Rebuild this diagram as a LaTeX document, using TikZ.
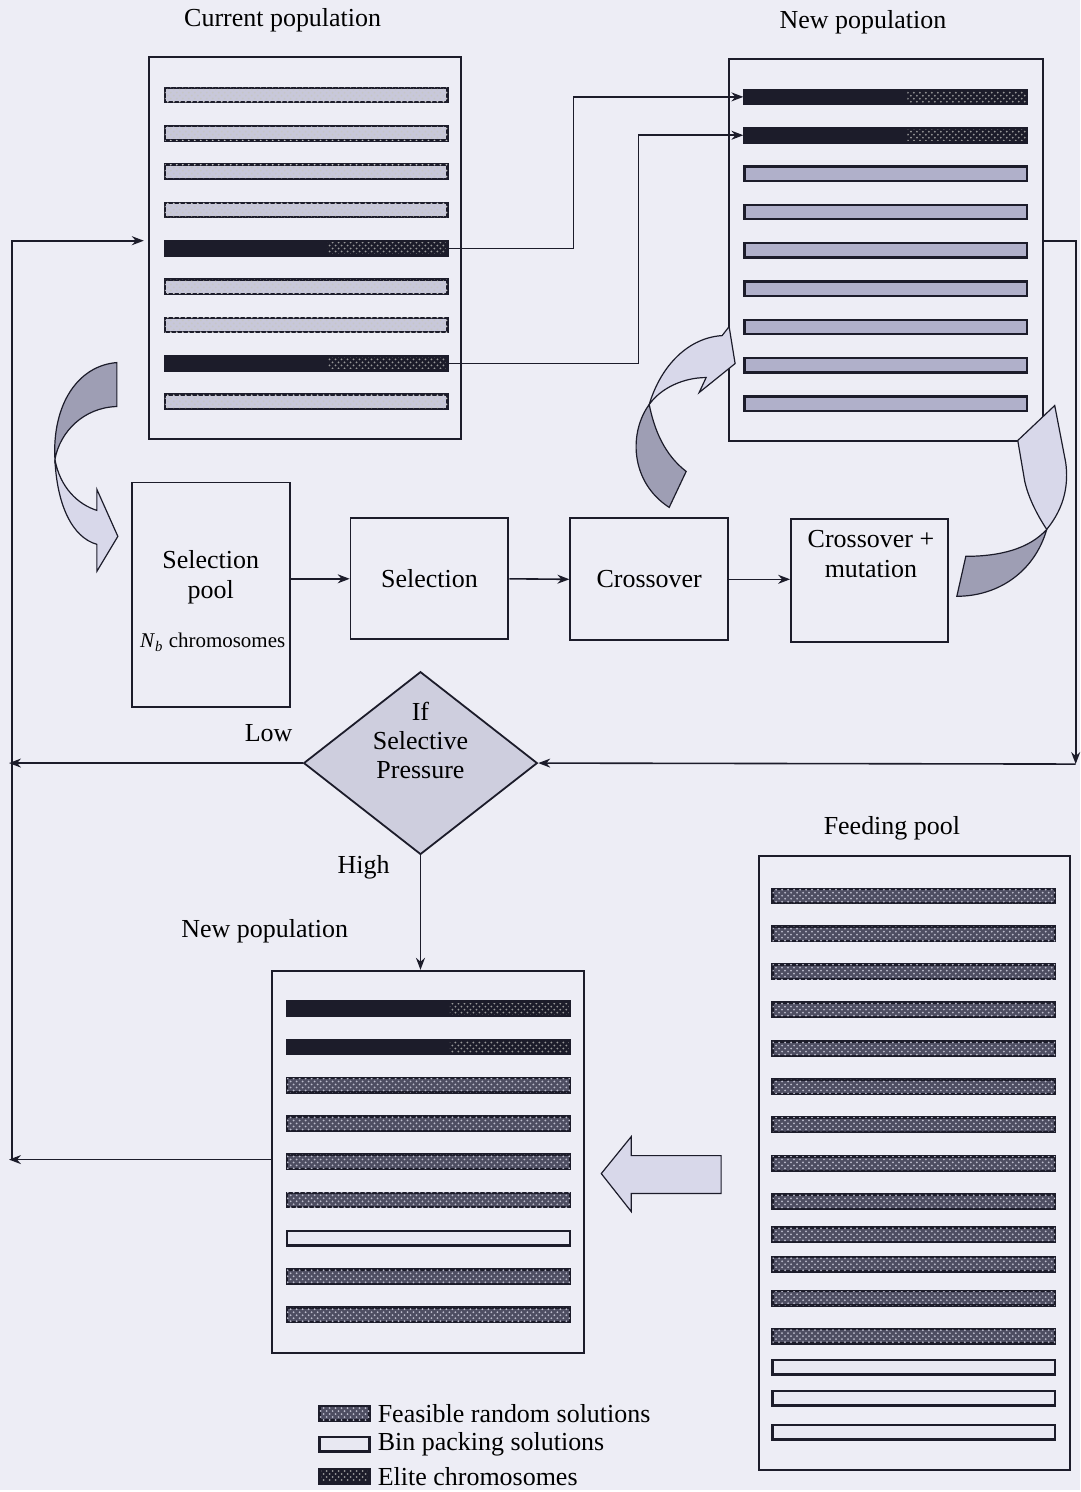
\documentclass[tikz,border=0pt]{standalone}
\usepackage{fontspec}
\setmainfont{Liberation Serif}
\usetikzlibrary{arrows.meta, positioning, shapes.geometric, patterns}

\definecolor{paper}{RGB}{237,237,245}
\definecolor{ink}{RGB}{28,28,42}
\definecolor{curfill}{RGB}{200,200,218}
\definecolor{newfill}{RGB}{176,176,202}
\definecolor{feasfill}{RGB}{78,78,98}
\definecolor{feasdot}{RGB}{188,188,204}
\definecolor{binfill}{RGB}{232,232,242}
\definecolor{backarc}{RGB}{158,158,180}
\definecolor{frontarc}{RGB}{216,216,234}
\definecolor{diafill}{RGB}{206,206,222}

\tikzset{
  popbox/.style={draw=ink, line width=1pt, fill=paper, inner sep=0pt},
  stepbox/.style={draw=ink, line width=0.9pt, fill=paper, inner sep=0pt},
  decision/.style={diamond, draw=ink, line width=0.9pt, fill=diafill, inner sep=0pt},
  bar/.style={draw=ink, line width=1.2pt, minimum width=141.5pt, minimum height=7.2pt, inner sep=0pt},
  curbar/.style={bar, fill=curfill, postaction={pattern=crosshatch dots, pattern color=gray!45}},
  newbar/.style={bar, fill=newfill},
  feasbar/.style={bar, fill=feasfill, postaction={pattern=crosshatch dots, pattern color=feasdot}},
  binbar/.style={bar, fill=binfill},
  elitebar/.style={bar, fill=ink, path picture={
      \fill[pattern=crosshatch dots, pattern color=gray!80]
        ([xshift=-60pt]path picture bounding box.north east) rectangle (path picture bounding box.south east);}},
  conn/.style={draw=ink, line width=0.8pt, -{Stealth[length=6pt, width=4.5pt]}},
  arcback/.style={draw=ink, line width=0.6pt, fill=backarc},
  arcfront/.style={draw=ink, line width=0.6pt, fill=frontarc},
}

\begin{document}
\begin{tikzpicture}[x=0.5pt, y=-0.5pt, font=\fontsize{13}{15.6}\selectfont]
\fill[paper] (0,0) rectangle (1081,1492);

% titles and branch labels
\node (curlbl) at (283,20) {Current population};
\node (newlbl) at (864,22) {New population};
\node (feedlbl) at (893,829) {Feeding pool};
\node (botlbl) at (265,932) {New population};
\node (lowlbl) at (269,734) {Low};
\node (highlbl) at (364,868) {High};

% population boxes
\node[popbox, minimum width=156.5pt, minimum height=191.5pt] (curpop) at (305.5,248.5) {};
\node[popbox, minimum width=157pt, minimum height=191.5pt] (newpop) at (887,250.5) {};
\node[popbox, minimum width=156.5pt, minimum height=191.5pt] (newbot) at (428.5,1163.5) {};
\node[popbox, minimum width=155.5pt, minimum height=307.5pt] (feed) at (915.5,1164.5) {};

% chromosomes
\foreach \t [count=\i] in {curbar,curbar,curbar,curbar,elitebar,curbar,curbar,elitebar,curbar}
  \node[\t] (cp\i) at (306.5,56.6+38.4*\i) {};
\foreach \t [count=\i] in {elitebar,elitebar,newbar,newbar,newbar,newbar,newbar,newbar,newbar}
  \node[\t] (np\i) at (887,58.6+38.4*\i) {};
\foreach \t [count=\i] in {elitebar,elitebar,feasbar,feasbar,feasbar,feasbar,binbar,feasbar,feasbar}
  \node[\t] (bp\i) at (429,971.7+38.3*\i) {};
\foreach \y/\t [count=\i] in {897/feasbar,935/feasbar,973/feasbar,1011/feasbar,1050/feasbar,
    1088/feasbar,1126/feasbar,1165/feasbar,1203/feasbar,1236/feasbar,1266/feasbar,1300/feasbar,
    1338/feasbar,1369/binbar,1400/binbar,1434/binbar}
  \node[\t] (fp\i) at (915,\y) {};

% GA steps
\node[stepbox, minimum width=79pt, minimum height=112.5pt] (selpool) at (211,595.5) {};
\node (selpooltxt) at (211,578) {\begin{tabular}{@{}c@{}}Selection\\[-1pt] pool\end{tabular}};
\node[font=\fontsize{10.5}{12}\selectfont] (nbtxt) at (213,643) {\textit{N}\textsubscript{\textit{b}} chromosomes};
\node[stepbox, minimum width=79pt, minimum height=60.5pt] (sel) at (430,579.5) {Selection};
\node[stepbox, minimum width=79pt, minimum height=61pt] (cross) at (650,580) {Crossover};
\node[stepbox, minimum width=78.5pt, minimum height=61.5pt] (cmut) at (870.5,581.5) {};
\node (cmuttxt) at (872,557) {\begin{tabular}{@{}c@{}}Crossover +\\[-1pt] mutation\end{tabular}};

% selective pressure test
\node[decision, minimum width=117pt, minimum height=91.5pt] (ifsp) at (421,764) {};
\node (ifsptxt) at (421,744) {\begin{tabular}{@{}c@{}}If\\[-1pt] Selective\\[-1pt] Pressure\end{tabular}};

% elite chromosomes copied across
\draw[conn] (cp5.east) -- ++(125,0) |- (np1.west);
\draw[conn] (cp8.east) -- ++(190,0) |- (np2.west);

% main flow
\draw[conn] (selpool.east |- sel.west) -- (sel.west);
\draw[conn] (sel.east) -- (cross.west);
\draw[conn] (cross.east) -- (cross.east -| cmut.west);

\coordinate (rturn) at (1077,765);
\draw[conn] ([yshift=4.75pt]newpop.east) -| (rturn);
\draw[conn] (rturn) -- (ifsp.east);
\coordinate (lowend) at (9,764);
\draw[conn] (ifsp.west) -- (lowend);
\draw[conn] (ifsp.south) -- (ifsp.south |- newbot.north);
\coordinate (botend) at (9,1161);
\draw[conn] (newbot.west |- botend) -- (botend);
\coordinate (lbot) at (12,1161);
\coordinate (ltop) at (12,241);
\draw[conn, shorten >=2pt] (lbot) -- (ltop) -- (ltop -| curpop.west);

% curved block arrows
\draw[arcback] (117,363) .. controls (78,366) and (52,405) .. (55,460)
  .. controls (60,432) and (84,408) .. (117,407) -- cycle;
\draw[arcfront] (55,460) .. controls (57,505) and (72,538) .. (97,545) -- (97,572) -- (118,537)
  -- (97,490) -- (97,511) .. controls (78,505) and (60,488) .. (55,460) -- cycle;

\draw[arcback] (650,405) .. controls (630,432) and (630,482) .. (670,508) -- (687,472)
  .. controls (665,455) and (655,430) .. (650,405) -- cycle;
\draw[arcfront] (650,405) .. controls (662,365) and (690,338) .. (723,336) -- (730,327) -- (736,364)
  -- (700,393) -- (707,378) .. controls (685,378) and (662,388) .. (650,405) -- cycle;

\draw[arcback] (1048,530) .. controls (1036,572) and (1000,597) .. (958,597) -- (967,557)
  .. controls (1000,557) and (1030,550) .. (1048,530) -- cycle;
\draw[arcfront] (1048,530) .. controls (1066,508) and (1070,485) .. (1067,463) -- (1056,406)
  -- (1019,441) -- (1026,482) .. controls (1030,500) and (1040,518) .. (1048,530) -- cycle;

% feeding pool refills the population
\draw[arcfront] (602,1175) -- (632,1138) -- (632,1157) -- (722,1157) -- (722,1195) -- (632,1195)
  -- (632,1213) -- cycle;

% legend
\node[feasbar, minimum width=25pt] (lgfeas) at (345,1415) {};
\node[binbar, minimum width=25pt] (lgbin) at (345,1446) {};
\node[elitebar, minimum width=25pt] (lgelite) at (345,1478) {};
\node[anchor=west] at (lgfeas.east) {Feasible random solutions};
\node[anchor=west] at (lgbin.east) {Bin packing solutions};
\node[anchor=west] at (lgelite.east) {Elite chromosomes};
\end{tikzpicture}
\end{document}
